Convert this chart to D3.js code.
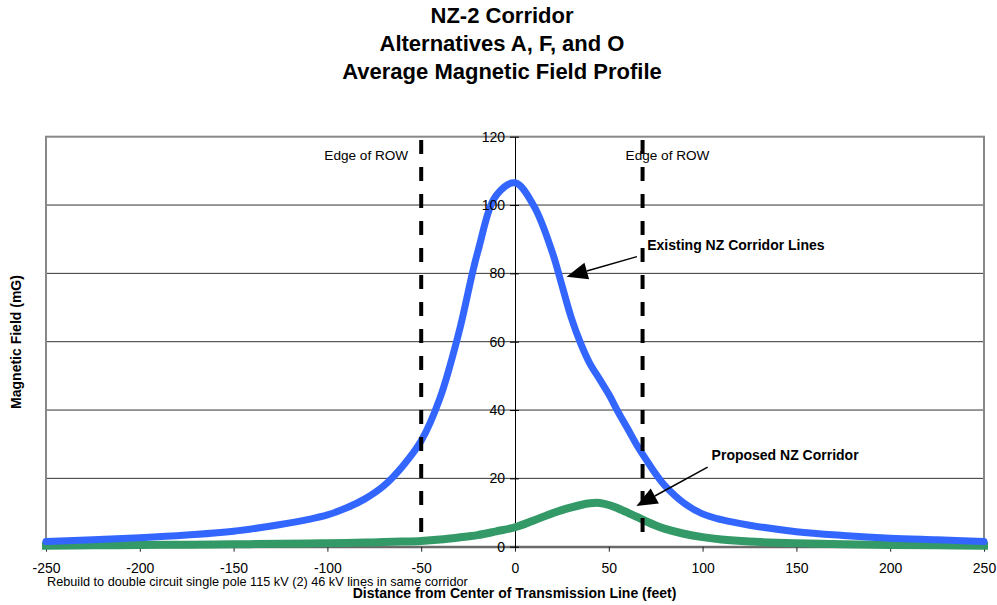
<!DOCTYPE html>
<html>
<head>
<meta charset="utf-8">
<script src="https://cdn.jsdelivr.net/npm/d3@7"></script>
<style>
  body { margin: 0; background: #fff; }
  svg { display: block; font-family: "Liberation Sans", Arial, sans-serif; }
</style>
</head>
<body>
<svg id="chart" width="997" height="605"></svg>
<script>
// --- Data ---
const distance = [-250, -225, -200, -175, -150, -125, -110, -100, -90, -80, -70, -60, -50, -40, -30, -20, -10, 0,
  10, 20, 25, 30, 35, 40, 45, 50, 55, 60, 65, 70, 75, 80, 90, 100, 110, 125, 150, 175, 200, 225, 250];
const existing = [1.5, 2.0, 2.6, 3.4, 4.5, 6.5, 8.0, 9.3, 11.3, 14, 17.8, 23.5, 31, 43.5, 62.5, 86, 102.8, 106.5,
  99.8, 86, 76.5, 67, 59.5, 53.5, 49.1, 44.6, 39.4, 34.6, 29.7, 25.4, 21.3, 17.8, 12.8, 9.6, 7.9, 6.3, 4.4, 3.3, 2.5, 2.0, 1.5];
const proposed = [0.3, 0.4, 0.5, 0.6, 0.7, 0.85, 0.95, 1.0, 1.1, 1.2, 1.35, 1.5, 1.7, 2.1, 2.7, 3.4, 4.5, 5.7,
  7.7, 9.8, 10.7, 11.5, 12.2, 12.7, 12.8, 12.2, 11.2, 10, 8.7, 7.4, 6.2, 5.2, 3.8, 2.8, 2.1, 1.5, 1.0, 0.7, 0.5, 0.4, 0.3];

const xTicks = [-250, -200, -150, -100, -50, 0, 50, 100, 150, 200, 250];
const yTicks = [0, 20, 40, 60, 80, 100, 120];
const rowEdges = [-50, 68];

const titleLines = ["NZ-2 Corridor", "Alternatives A, F, and O", "Average Magnetic Field Profile"];
const xTitle = "Distance from Center of Transmission Line (feet)";
const yTitle = "Magnetic Field (mG)";
const footnote = "Rebuild to double circuit single pole 115 kV (2) 46 kV lines in same corridor";

// annotation: label position and arrow from/to, in data units
const notes = [
  { text: "Existing NZ Corridor Lines", tx: 70.5, ty: 86.8, from: [65, 84.9], to: [27.5, 79] },
  { text: "Proposed NZ Corridor", tx: 104.8, ty: 25.4, from: [102.7, 23.3], to: [64.7, 11.9] }
];

const svg = d3.select("#chart");

const x = d3.scaleLinear().domain([-250, 250]).range([46, 984]);
const y = d3.scaleLinear().domain([0, 120]).range([546.7, 136.7]);

// title
svg.append("g")
  .selectAll("text")
  .data(titleLines)
  .join("text")
  .attr("x", 502)
  .attr("y", (d, i) => 22.5 + i * 28)
  .attr("text-anchor", "middle")
  .attr("font-size", 22)
  .attr("font-weight", "bold")
  .text(d => d);

// gridlines
svg.append("g")
  .selectAll("line")
  .data(yTicks.filter(d => d > 0 && d < 120))
  .join("line")
  .attr("x1", x(-250))
  .attr("x2", x(250))
  .attr("y1", d => y(d))
  .attr("y2", d => y(d))
  .attr("stroke", "#333")
  .attr("stroke-width", 1);

// plot frame
svg.append("rect")
  .attr("x", x(-250))
  .attr("y", y(120))
  .attr("width", x(250) - x(-250))
  .attr("height", y(0) - y(120))
  .attr("fill", "none")
  .attr("stroke", "#888")
  .attr("stroke-width", 2);

// x axis at y = 0
const xAxis = svg.append("g")
  .attr("transform", `translate(0,${y(0)})`)
  .call(d3.axisBottom(x).tickValues(xTicks).tickSize(5).tickSizeOuter(0).tickPadding(11)
    .tickFormat(d => String(d)));
xAxis.select(".domain").attr("stroke", "#666").attr("stroke-width", 2);
xAxis.selectAll(".tick line").attr("stroke", "#222");
xAxis.selectAll(".tick text")
  .attr("font-size", 14)
  .attr("font-family", "Liberation Sans, Arial, sans-serif")
  .attr("fill", "#000");

// y axis line and ticks through x = 0 (labels drawn later, above the curves)
const yAxis = svg.append("g")
  .attr("transform", `translate(${x(0)},0)`)
  .call(d3.axisLeft(y).tickValues(yTicks).tickSize(5).tickSizeOuter(0).tickFormat(""));
yAxis.select(".domain").attr("stroke", "#000");
yAxis.selectAll(".tick line").attr("x1", 4).attr("stroke", "#000");

// curves
const pts = vals => distance.map((d, i) => [d, vals[i]]);
const line = d3.line()
  .x(d => x(d[0]))
  .y(d => y(d[1]))
  .curve(d3.curveCatmullRom.alpha(0.5));

svg.append("path")
  .attr("d", line(pts(proposed)))
  .attr("fill", "none")
  .attr("stroke", "#339966")
  .attr("stroke-width", 8)
  .attr("stroke-linecap", "square");

svg.append("path")
  .attr("d", line(pts(existing)))
  .attr("fill", "none")
  .attr("stroke", "#3366ff")
  .attr("stroke-width", 7)
  .attr("stroke-linecap", "round");

// y tick labels on top
const yLabels = svg.append("g")
  .attr("transform", `translate(${x(0)},0)`)
  .call(d3.axisLeft(y).tickValues(yTicks).tickSize(5).tickPadding(5).tickFormat(d => String(d)));
yLabels.select(".domain").remove();
yLabels.selectAll(".tick line").remove();
yLabels.selectAll(".tick text")
  .attr("font-size", 14)
  .attr("font-family", "Liberation Sans, Arial, sans-serif")
  .attr("fill", "#000");

// edge of right-of-way
svg.append("g")
  .selectAll("line")
  .data(rowEdges)
  .join("line")
  .attr("x1", d => x(d))
  .attr("x2", d => x(d))
  .attr("y1", 140)
  .attr("y2", 532)
  .attr("stroke", "#000")
  .attr("stroke-width", 4)
  .attr("stroke-dasharray", "14,13");

svg.append("text")
  .attr("x", x(rowEdges[0]) - 13)
  .attr("y", 160)
  .attr("text-anchor", "end")
  .attr("font-size", 13.6)
  .text("Edge of ROW");
svg.append("text")
  .attr("x", x(rowEdges[1]) - 17)
  .attr("y", 160)
  .attr("font-size", 13.6)
  .text("Edge of ROW");

// annotations with arrows
const ann = svg.append("g");
notes.forEach(n => {
  const [x0, y0] = [x(n.from[0]), y(n.from[1])];
  const [x1, y1] = [x(n.to[0]), y(n.to[1])];
  const a = Math.atan2(y1 - y0, x1 - x0);
  const len = 21, half = 8.5;
  const bx = x1 - len * Math.cos(a), by = y1 - len * Math.sin(a);
  ann.append("line")
    .attr("x1", x0).attr("y1", y0)
    .attr("x2", bx).attr("y2", by)
    .attr("stroke", "#000")
    .attr("stroke-width", 1.5);
  ann.append("path")
    .attr("d", d3.line()([
      [x1, y1],
      [bx + half * Math.sin(a), by - half * Math.cos(a)],
      [bx - half * Math.sin(a), by + half * Math.cos(a)]
    ]) + "Z")
    .attr("fill", "#000");
  ann.append("text")
    .attr("x", x(n.tx))
    .attr("y", y(n.ty))
    .attr("font-size", 14)
    .attr("font-weight", "bold")
    .text(n.text);
});

// axis titles and footnote
svg.append("text")
  .attr("x", 514.5)
  .attr("y", 598)
  .attr("text-anchor", "middle")
  .attr("font-size", 14)
  .attr("font-weight", "bold")
  .text(xTitle);

svg.append("text")
  .attr("transform", "translate(21,342) rotate(-90)")
  .attr("text-anchor", "middle")
  .attr("font-size", 14)
  .attr("font-weight", "bold")
  .text(yTitle);

svg.append("text")
  .attr("x", 47)
  .attr("y", 586)
  .attr("font-size", 12.7)
  .text(footnote);
</script>
</body>
</html>
